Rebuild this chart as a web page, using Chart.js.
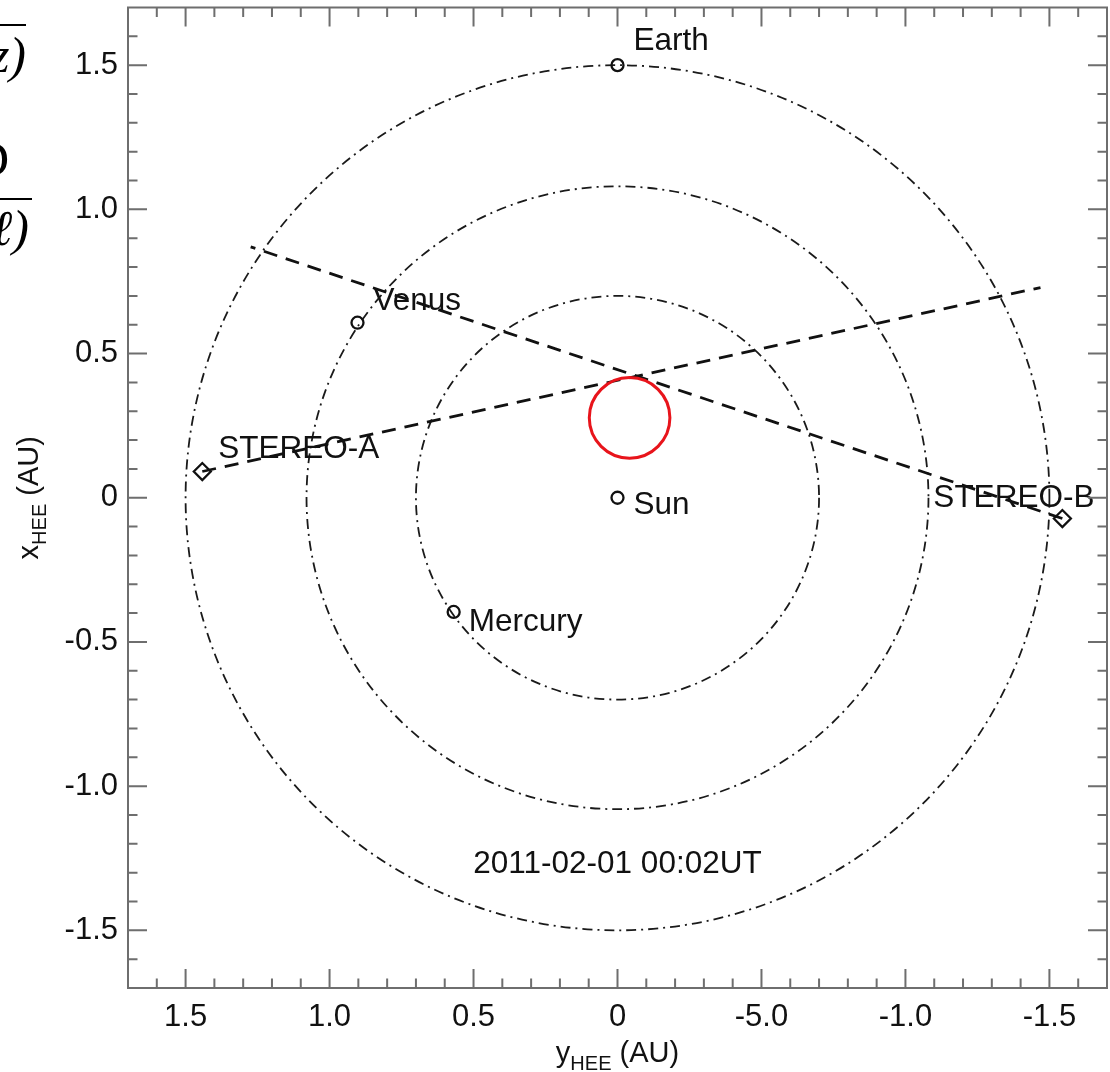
<!DOCTYPE html>
<html><head><meta charset="utf-8">
<script src="https://cdn.jsdelivr.net/npm/chart.js@4.4.1/dist/chart.umd.min.js"></script>
<style>html,body{margin:0;padding:0;background:#fff;}canvas{display:block;}</style>
</head><body>
<canvas id="c" width="1110" height="1072"></canvas>
<script>
// ---- data (horizontal axis = y_HEE, vertical axis = x_HEE), AU ----
const bodyNames = ["Earth", "Venus", "Mercury", "Sun"];
const bodyYHEE  = [0.00, 0.903, 0.569, 0.00];
const bodyXHEE  = [1.50, 0.607, -0.396, 0.00];
const stereoNames = ["STEREO-A", "STEREO-B"];
const stereoYHEE  = [1.442, -1.545];
const stereoXHEE  = [0.091, -0.072];
const losAYHEE = [1.442, -1.469];
const losAXHEE = [0.091, 0.729];
const losBYHEE = [-1.545, 1.274];
const losBXHEE = [-0.072, 0.870];
const orbitRadii = [0.70, 1.08, 1.50];
const cmeCenter = [-0.042, 0.277];
const cmeRadius = 0.14;
const xTickValues = [1.5, 1.0, 0.5, 0, -0.5, -1.0, -1.5];
const xTickLabels = ["1.5", "1.0", "0.5", "0", "-5.0", "-1.0", "-1.5"];
const yTickValues = [1.5, 1.0, 0.5, 0, -0.5, -1.0, -1.5];
const yTickLabels = ["1.5", "1.0", "0.5", "0", "-0.5", "-1.0", "-1.5"];
const dateLabel = "2011-02-01 00:02UT";
const datePos = [0, -1.30];

// ---- styles ----
const FONT = "'Liberation Sans', Arial, Helvetica, sans-serif";
const labelOffsets = {
  "Earth": [16, -15], "Venus": [16, -13], "Mercury": [15, 19], "Sun": [16, 16],
  "STEREO-A": [16, -14], "STEREO-B": [-129, -12]
};

const helper = {
  id: 'helper',
  beforeDatasetsDraw(chart) {
    const {ctx, scales: {x, y}} = chart;
    const cx = x.getPixelForValue(0), cy = y.getPixelForValue(0);
    ctx.save();
    ctx.strokeStyle = '#1a1a1a';
    ctx.lineWidth = 1.8;
    ctx.setLineDash([10, 5, 2, 5]);
    orbitRadii.forEach(r => {
      const rx = Math.abs(x.getPixelForValue(r) - cx);
      const ry = Math.abs(y.getPixelForValue(r) - cy);
      ctx.beginPath();
      ctx.ellipse(cx, cy, rx, ry, 0, 0, Math.PI * 2);
      ctx.stroke();
    });
    ctx.restore();
  },
  afterDatasetsDraw(chart) {
    const {ctx, chartArea: a, scales: {x, y}} = chart;
    ctx.save();
    // red circle
    const px = x.getPixelForValue(cmeCenter[0]), py = y.getPixelForValue(cmeCenter[1]);
    const rr = Math.abs(x.getPixelForValue(cmeRadius) - x.getPixelForValue(0));
    ctx.strokeStyle = '#e8141b'; ctx.lineWidth = 3; ctx.setLineDash([]);
    ctx.beginPath(); ctx.arc(px, py, rr, 0, Math.PI * 2); ctx.stroke();

    // annotations
    ctx.fillStyle = '#111';
    ctx.font = '31.5px ' + FONT;
    ctx.textAlign = 'left'; ctx.textBaseline = 'alphabetic';
    bodyNames.forEach((n, i) => {
      const o = labelOffsets[n];
      ctx.fillText(n, x.getPixelForValue(bodyYHEE[i]) + o[0], y.getPixelForValue(bodyXHEE[i]) + o[1]);
    });
    stereoNames.forEach((n, i) => {
      const o = labelOffsets[n];
      ctx.fillText(n, x.getPixelForValue(stereoYHEE[i]) + o[0], y.getPixelForValue(stereoXHEE[i]) + o[1]);
    });
    ctx.textAlign = 'center';
    ctx.fillText(dateLabel, x.getPixelForValue(datePos[0]), y.getPixelForValue(datePos[1]));

    // frame and inward ticks
    ctx.strokeStyle = '#6e6e6e'; ctx.lineWidth = 2;
    ctx.strokeRect(a.left, a.top, a.right - a.left, a.bottom - a.top);
    const major = 19, minor = 9.5;
    ctx.beginPath();
    for (let k = -16; k <= 16; k++) {
      const v = k / 10;
      const isMajor = (k % 5 === 0);
      const L = isMajor ? major : minor;
      const X = x.getPixelForValue(v), Y = y.getPixelForValue(v);
      ctx.moveTo(X, a.bottom); ctx.lineTo(X, a.bottom - L);
      ctx.moveTo(X, a.top); ctx.lineTo(X, a.top + L);
      ctx.moveTo(a.left, Y); ctx.lineTo(a.left + L, Y);
      ctx.moveTo(a.right, Y); ctx.lineTo(a.right - L, Y);
    }
    ctx.stroke();

    // axis titles with subscripts
    const mainF = '29px ' + FONT, subF = '20px ' + FONT;
    const drawTitle = (letter) => {
      ctx.font = mainF; const w1 = ctx.measureText(letter).width;
      const w3 = ctx.measureText(' (AU)').width;
      ctx.font = subF; const w2 = ctx.measureText('HEE').width;
      const total = w1 + w2 + w3;
      let s = -total / 2;
      ctx.textAlign = 'left';
      ctx.font = mainF; ctx.fillText(letter, s, 0); s += w1;
      ctx.font = subF; ctx.fillText('HEE', s, 8); s += w2;
      ctx.font = mainF; ctx.fillText(' (AU)', s, 0);
    };
    ctx.fillStyle = '#111';
    ctx.save();
    ctx.translate((a.left + a.right) / 2, 1062);
    drawTitle('y');
    ctx.restore();
    ctx.save();
    ctx.translate(38, (a.top + a.bottom) / 2);
    ctx.rotate(-Math.PI / 2);
    drawTitle('x');
    ctx.restore();

    // fragments of neighbouring figure at the left edge
    ctx.strokeStyle = '#000'; ctx.lineWidth = 2;
    ctx.beginPath();
    ctx.moveTo(0, 25); ctx.lineTo(26, 25);
    ctx.moveTo(0, 199); ctx.lineTo(32, 199);
    ctx.stroke();
    ctx.font = 'italic 50px "Liberation Serif", "DejaVu Serif", serif';
    ctx.textAlign = 'right'; ctx.fillStyle = '#000';
    ctx.fillText('z)', 26, 72);
    ctx.fillText('ℓ)', 29, 245);
    ctx.textAlign = 'left';
    ctx.font = '50px "Liberation Serif", "DejaVu Serif", serif';
    ctx.fillText('D', -27, 176);
    ctx.restore();
  }
};

const pts = (xs, ys) => xs.map((v, i) => ({x: v, y: ys[i]}));
const noPad = s => { s.paddingTop = 0; s.paddingBottom = 0; s.paddingLeft = 0; s.paddingRight = 0; };

new Chart(document.getElementById('c'), {
  type: 'scatter',
  data: {
    datasets: [
      { label: 'LOS STEREO-A', data: pts(losAYHEE, losAXHEE), showLine: true,
        borderColor: '#111', borderWidth: 2.8, borderDash: [14, 9], pointRadius: 0 },
      { label: 'LOS STEREO-B', data: pts(losBYHEE, losBXHEE), showLine: true,
        borderColor: '#111', borderWidth: 2.8, borderDash: [14, 9], pointRadius: 0 },
      { label: 'Bodies', data: pts(bodyYHEE, bodyXHEE), pointStyle: 'circle',
        pointRadius: 6, borderWidth: 2.3, borderColor: '#111', backgroundColor: 'rgba(0,0,0,0)' },
      { label: 'STEREO', data: pts(stereoYHEE, stereoXHEE), pointStyle: 'rectRot',
        pointRadius: 8.5, borderWidth: 2.3, borderColor: '#111', backgroundColor: 'rgba(0,0,0,0)' }
    ]
  },
  options: {
    responsive: false,
    animation: false,
    devicePixelRatio: 1,
    layout: { autoPadding: false, padding: { left: 0, top: 7.5, right: 3, bottom: 0 } },
    plugins: { legend: { display: false }, tooltip: { enabled: false } },
    scales: {
      x: {
        type: 'linear', reverse: true, min: -1.7, max: 1.7, position: 'bottom',
        grid: { display: false, drawTicks: false }, border: { display: false },
        afterBuildTicks: s => { s.ticks = xTickValues.map(v => ({value: v})); },
        afterFit: s => { s.height = 84; noPad(s); },
        ticks: { autoSkip: false, maxRotation: 0, padding: 11, color: '#111',
          font: { family: FONT, size: 31 },
          callback: v => xTickLabels[xTickValues.indexOf(v)] }
      },
      y: {
        type: 'linear', min: -1.7, max: 1.7, position: 'left',
        grid: { display: false, drawTicks: false }, border: { display: false },
        afterBuildTicks: s => { s.ticks = yTickValues.map(v => ({value: v})); },
        afterFit: s => { s.width = 128; noPad(s); },
        ticks: { autoSkip: false, padding: 10, color: '#111',
          font: { family: FONT, size: 31 },
          callback: v => yTickLabels[yTickValues.indexOf(v)] }
      }
    }
  },
  plugins: [helper]
});
</script>
</body></html>
